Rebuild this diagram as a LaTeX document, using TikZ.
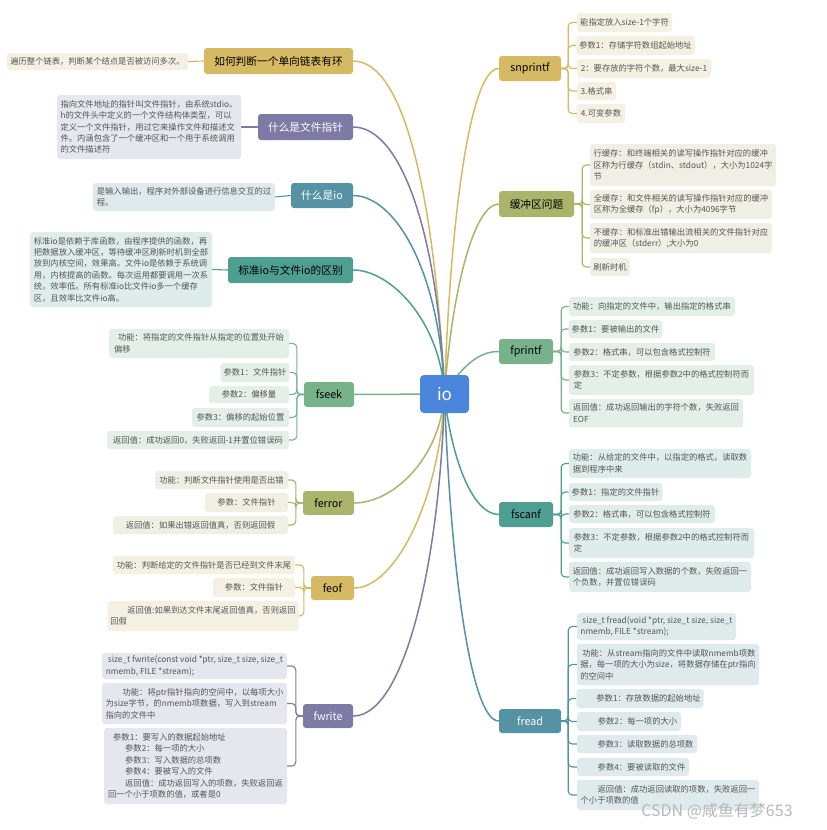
\documentclass[tikz,border=0pt]{standalone}
\usepackage{fontspec}
\setmainfont{Noto Sans CJK SC}
\pgfdeclarelayer{bg}
\pgfsetlayers{bg,main}
\definecolor{goldC}{HTML}{D5BA63}\definecolor{goldL}{HTML}{F5F1E2}
\definecolor{purC}{HTML}{7D7BA6}\definecolor{purL}{HTML}{E6E6EE}
\definecolor{tbC}{HTML}{5592A3}\definecolor{tbL}{HTML}{DFEAED}
\definecolor{tgC}{HTML}{4F9E92}\definecolor{tgL}{HTML}{DEEDEA}
\definecolor{grC}{HTML}{78B28B}\definecolor{grL}{HTML}{E3EFE7}
\definecolor{olC}{HTML}{AAB56B}\definecolor{olL}{HTML}{EFF0E3}
\definecolor{ioC}{HTML}{4A86DB}
\definecolor{leaftext}{HTML}{555555}
\tikzset{
  mainbox/.style={rounded corners=3pt, inner sep=0pt, font=\fontsize{10.7}{12}\selectfont},
  leafbox/.style={rounded corners=3pt, inner xsep=3pt, inner ysep=0pt, font=\fontsize{8.3}{11.4}\selectfont, text=leaftext, align=left},
  goldM/.style={fill=goldC, text=black}, goldF/.style={fill=goldL}, goldW/.style={draw=goldC},
  purM/.style={fill=purC, text=white}, purF/.style={fill=purL}, purW/.style={draw=purC},
  tbM/.style={fill=tbC, text=white}, tbF/.style={fill=tbL}, tbW/.style={draw=tbC},
  tgM/.style={fill=tgC, text=black}, tgF/.style={fill=tgL}, tgW/.style={draw=tgC},
  grM/.style={fill=grC, text=black}, grF/.style={fill=grL}, grW/.style={draw=grC},
  olM/.style={fill=olC, text=black}, olF/.style={fill=olL}, olW/.style={draw=olC},
  trunk/.style={line width=1.5pt},
  twig/.style={line width=1.1pt, rounded corners=4pt},
}
\newcommand\mnode[7]{\node[mainbox,#6,minimum width={(#4-#2)*1pt},minimum height={(#5-#3)*1pt}] (#1) at ({(#2+#4)/2},{(#3+#5)/2}) {#7};}
\newcommand\lnode[7]{\node[leafbox,#6,minimum width={(#4-#2)*1pt},minimum height={(#5-#3)*1pt}] (#1) at ({(#2+#4)/2},{(#3+#5)/2}) {#7};}
\newcommand\brL[3]{\draw[twig,#1] (#2.west) -- ++(-7,0) |- (#3.east);}
\newcommand\brR[4]{\draw[twig,#1] (#2.east) -- ++(#4,0) |- (#3.west);}
\begin{document}
\begin{tikzpicture}[x=1pt,y=-1pt]
\useasboundingbox (0,0) rectangle (827,830);

% centre
\node[rounded corners=4pt, fill=ioC, text=white, font=\fontsize{17}{17}\selectfont, minimum width=49pt, minimum height=38pt, inner sep=0pt] (io) at (444.5,394) {io};

% left main nodes
\mnode{m1}{204}{48}{353}{74}{goldM}{如何判断一个单向链表有环}
\mnode{m2}{258}{114}{353}{140}{purM}{什么是文件指针}
\mnode{m3}{291}{183}{353}{208}{tbM}{什么是io}
\mnode{m4}{228}{257}{353}{283}{tgM}{标准io与文件io的区别}
\mnode{fseek}{304}{382}{354}{407}{grM}{fseek}
\mnode{ferror}{303}{491}{354}{515}{olM}{ferror}
\mnode{feof}{311}{576}{354}{600}{goldM}{feof}
\mnode{fwrite}{303}{704}{353}{728}{purM}{fwrite}
% right main nodes
\mnode{snp}{499}{56}{561}{81}{goldM}{snprintf}
\mnode{buf}{499}{191}{574}{217}{olM}{缓冲区问题}
\mnode{fpr}{499}{339}{553}{364}{grM}{fprintf}
\mnode{fsc}{499}{502}{553}{527}{tgM}{fscanf}
\mnode{frd}{499}{709}{561}{733}{tbM}{fread}

% left leaves
\lnode{l1}{7}{53}{188}{70}{goldF}{遍历整个链表，判断某个结点是否被访问多次。}
\lnode{l2}{57}{95}{241}{159}{purF}{指向文件地址的指针叫文件指针，由系统stdio。\\h的文件头中定义的一个文件结构体类型，可以\\定义一个文件指针，用过它来操作文件和描述文\\件。内涵包含了一个缓冲区和一个用于系统调用\\的文件描述符}
\lnode{l3}{93}{183}{275}{211}{tbF}{是输入输出，程序对外部设备进行信息交互的过\\程。}
\lnode{l4}{30}{232}{212}{307}{tgF}{标准io是依赖于库函数，由程序提供的函数，再\\把数据放入缓冲区，等待缓冲区刷新时机到全部\\放到内核空间，效果高。文件io是依赖于系统调\\用，内核提高的函数。每次运用都要调用一次系\\统，效率低。所有标准io比文件io多一个缓存\\区，且效率比文件io高。}

\lnode{fs1}{109}{329}{289}{358}{grF}{\hspace{4pt}功能：将指定的文件指针从指定的位置处开始\\偏移}
\lnode{fs2}{221}{363}{289}{382}{grF}{参数1：文件指针}
\lnode{fs3}{209}{386}{289}{403}{grF}{参数2：偏移量}
\lnode{fs4}{192}{408}{289}{427}{grF}{参数3：偏移的起始位置}
\lnode{fs5}{107}{431}{289}{449}{grF}{返回值：成功返回0，失败返回-1并置位错误码}

\lnode{fe1}{155}{471}{288}{489}{olF}{功能：判断文件指针使用是否出错}
\lnode{fe2}{205}{493}{288}{512}{olF}{参数：文件指针}
\lnode{fe3}{113}{516}{288}{534}{olF}{返回值：如果出错返回值真，否则返回假}

\lnode{fo1}{113}{556}{295}{574}{goldF}{功能：判断给定的文件指针是否已经到文件末尾}
\lnode{fo2}{213}{578}{295}{597}{goldF}{参数：文件指针}
\lnode{fo3}{111}{601}{295}{631}{goldF}{\hspace{17pt}返回值:如果到达文件末尾返回值真，否则返回\\回假}

\lnode{fw1}{102}{653}{287}{679}{purF}{\hspace{2pt}size\_t fwrite(const void *ptr, size\_t size, size\_t\\nmemb, FILE *stream);}
\lnode{fw2}{102}{683}{287}{724}{purF}{\hspace{17pt}功能：将ptr指针指向的空间中，以每项大小\\为size字节，的nmemb项数据，写入到stream\\指向的文件中}
\lnode{fw3}{104}{728}{287}{804}{purF}{\hspace{5pt}参数1：要写入的数据起始地址\\\hspace{17pt}参数2：每一项的大小\\\hspace{17pt}参数3：写入数据的总项数\\\hspace{17pt}参数4：要被写入的文件\\\hspace{17pt}返回值：成功返回写入的项数，失败返回返\\回一个小于项数的值，或者是0}

% right leaves
\lnode{sn1}{577}{13}{672}{32}{goldF}{能指定放入size-1个字符}
\lnode{sn2}{577}{36}{694}{55}{goldF}{参数1：存储字符数组起始地址}
\lnode{sn3}{577}{59}{711}{78}{goldF}{2：要存放的字符个数，最大size-1}
\lnode{sn4}{577}{82}{616}{100}{goldF}{3.格式串}
\lnode{sn5}{577}{104}{625}{123}{goldF}{4.可变参数}

\lnode{bu1}{590}{144}{776}{186}{olF}{行缓存：和终端相关的读写操作指针对应的缓冲\\区称为行缓存（stdin、stdout），大小为1024字\\节}
\lnode{bu2}{590}{190}{772}{219}{olF}{全缓存：和文件相关的读写操作指针对应的缓冲\\区称为全缓存（fp），大小为4096字节}
\lnode{bu3}{590}{223}{772}{253}{olF}{不缓存：和标准出错输出流相关的文件指针对应\\的缓冲区（stderr）,大小为0}
\lnode{bu4}{590}{258}{630}{276}{olF}{刷新时机}

\lnode{fp1}{569}{297}{735}{316}{grF}{功能：向指定的文件中，输出指定的格式串}
\lnode{fp2}{569}{320}{662}{338}{grF}{参数1：要被输出的文件}
\lnode{fp3}{569}{343}{715}{361}{grF}{参数2：格式串，可以包含格式控制符}
\lnode{fp4}{569}{365}{754}{395}{grF}{参数3：不定参数，根据参数2中的格式控制符而\\定}
\lnode{fp5}{569}{399}{743}{427}{grF}{返回值：成功返回输出的字符个数，失败返回\\EOF}

\lnode{sc1}{569}{449}{751}{478}{tgF}{功能：从给定的文件中，以指定的格式，读取数\\据到程序中来}
\lnode{sc2}{569}{483}{662}{501}{tgF}{参数1：指定的文件指针}
\lnode{sc3}{569}{505}{715}{523}{tgF}{参数2：格式串，可以包含格式控制符}
\lnode{sc4}{569}{528}{754}{558}{tgF}{参数3：不定参数，根据参数2中的格式控制符而\\定}
\lnode{sc5}{569}{562}{751}{592}{tgF}{返回值：成功返回写入数据的个数，失败返回一\\个负数，并置位错误码}

\lnode{rd1}{577}{613}{736}{640}{tbF}{\hspace{2pt}size\_t fread(void *ptr, size\_t size, size\_t\\nmemb, FILE *stream);}
\lnode{rd2}{577}{644}{759}{685}{tbF}{\hspace{2pt}功能：从stream指向的文件中读取nmemb项数\\据，每一项的大小为size，将数据存储在ptr指向\\的空间中}
\lnode{rd3}{577}{689}{703}{708}{tbF}{\hspace{17pt}参数1：存放数据的起始地址}
\lnode{rd4}{577}{712}{681}{731}{tbF}{\hspace{17pt}参数2：每一项的大小}
\lnode{rd5}{577}{735}{697}{753}{tbF}{\hspace{17pt}参数3：读取数据的总项数}
\lnode{rd6}{577}{758}{689}{776}{tbF}{\hspace{17pt}参数4：要被读取的文件}
\lnode{rd7}{577}{780}{759}{810}{tbF}{\hspace{17pt}返回值：成功返回读取的项数，失败返回一\\个小于项数的值}

\node[text=black!28, font=\fontsize{16}{16}\selectfont, inner sep=0pt] (wm) at (717,811) {CSDN @咸鱼有梦653};

\begin{pgfonlayer}{bg}
\fill[white] (0,0) rectangle (827,830);
% trunks
\draw[trunk,goldW] (m1.east) .. controls (405,61) and (435,200) .. (io.center);
\draw[trunk,purW] (m2.east) .. controls (400,127) and (438,230) .. (io.center);
\draw[trunk,tbW] (m3.east) .. controls (395,196) and (440,270) .. (io.center);
\draw[trunk,tgW] (m4.east) .. controls (390,270) and (440,320) .. (io.center);
\draw[trunk,grW] (fseek.east) -- (io.center);
\draw[trunk,olW] (ferror.east) .. controls (392,503) and (440,460) .. (io.center);
\draw[trunk,goldW] (feof.east) .. controls (395,588) and (440,500) .. (io.center);
\draw[trunk,purW] (fwrite.east) .. controls (405,716) and (440,560) .. (io.center);
\draw[trunk,goldW] (snp.west) .. controls (470,68) and (450,220) .. (io.center);
\draw[trunk,olW] (buf.west) .. controls (474,204) and (452,290) .. (io.center);
\draw[trunk,grW] (fpr.west) .. controls (476,351) and (458,372) .. (io.center);
\draw[trunk,tgW] (fsc.west) .. controls (470,514) and (450,450) .. (io.center);
\draw[trunk,tbW] (frd.west) .. controls (470,721) and (450,560) .. (io.center);
% single leaves
\draw[twig,goldW] (m1.west) -- (l1.east);
\draw[twig,purW] (m2.west) -- (l2.east);
\draw[twig,tbW] (m3.west) -- (l3.east);
\draw[twig,tgW] (m4.west) -- (l4.east);
% brackets
\foreach \l in {fs1,fs2,fs3,fs4,fs5} {\brL{grW}{fseek}{\l}}
\foreach \l in {fe1,fe2,fe3} {\brL{olW}{ferror}{\l}}
\foreach \l in {fo1,fo2,fo3} {\brL{goldW}{feof}{\l}}
\foreach \l in {fw1,fw2,fw3} {\brL{purW}{fwrite}{\l}}
\foreach \l in {sn1,sn2,sn3,sn4,sn5} {\brR{goldW}{snp}{\l}{7}}
\foreach \l in {bu1,bu2,bu3,bu4} {\brR{olW}{buf}{\l}{8}}
\foreach \l in {fp1,fp2,fp3,fp4,fp5} {\brR{grW}{fpr}{\l}{8}}
\foreach \l in {sc1,sc2,sc3,sc4,sc5} {\brR{tgW}{fsc}{\l}{8}}
\foreach \l in {rd1,rd2,rd3,rd4,rd5,rd6,rd7} {\brR{tbW}{frd}{\l}{7}}
\end{pgfonlayer}
\end{tikzpicture}
\end{document}
